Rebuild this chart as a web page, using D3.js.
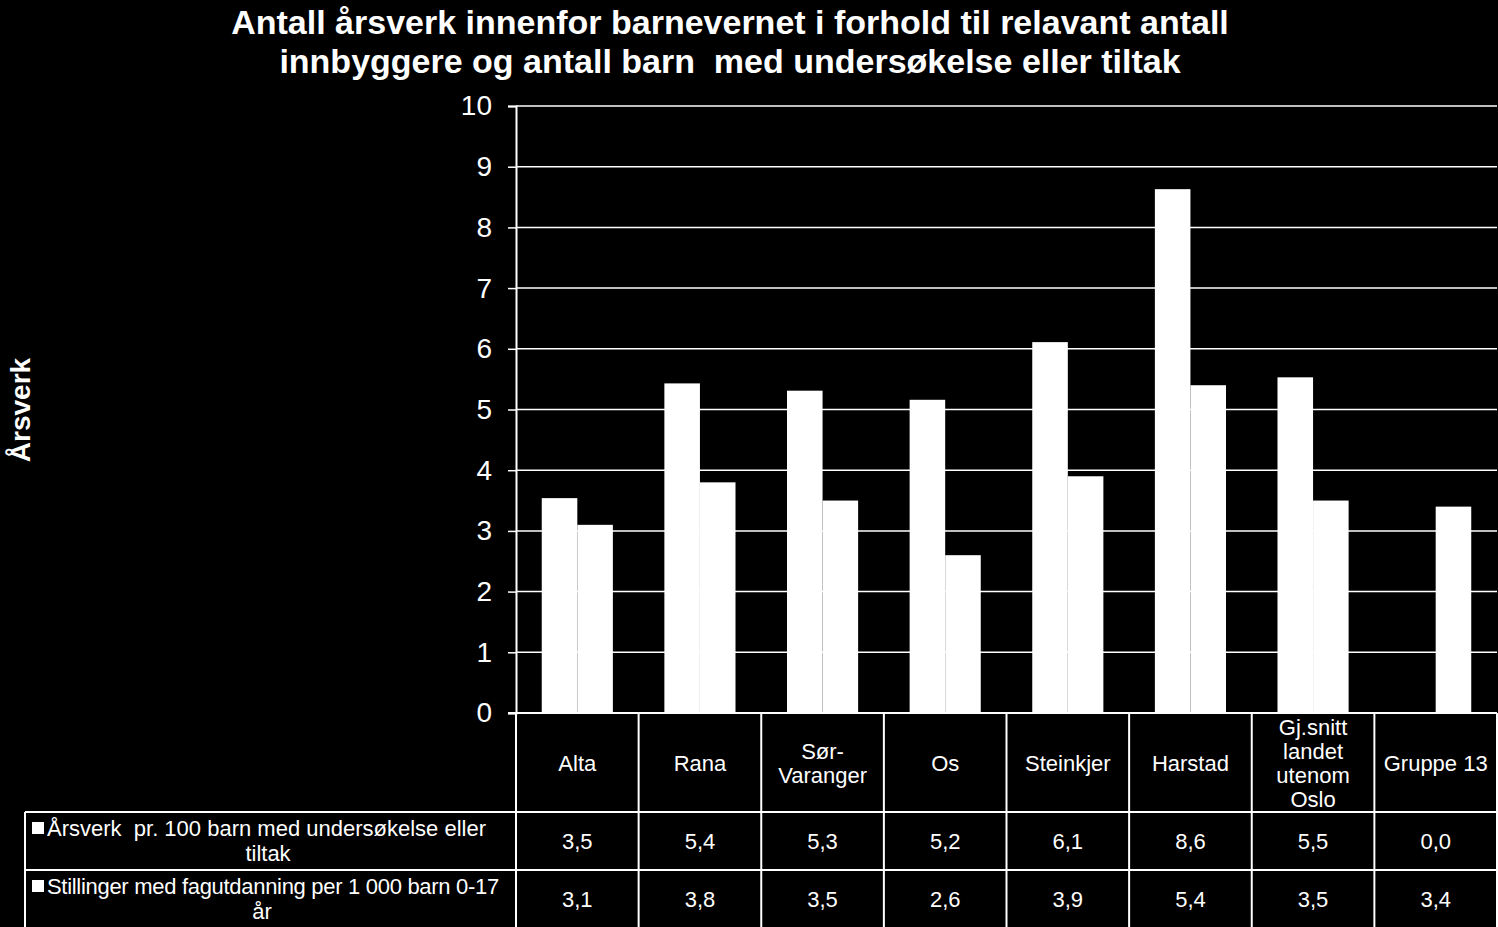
<!DOCTYPE html>
<html><head><meta charset="utf-8">
<script src="https://cdn.jsdelivr.net/npm/d3@7"></script>
<style>html,body{margin:0;padding:0;background:#000;}svg{display:block;font-family:"Liberation Sans",Arial,sans-serif;}text{white-space:pre;}</style>
</head><body>
<svg id="c" width="1498" height="927"></svg>
<script>
const titleLines = ["Antall årsverk innenfor barnevernet i forhold til relavant antall", "innbyggere og antall barn  med undersøkelse eller tiltak"];
const yLabel = "Årsverk";
const categories = [["Alta"],["Rana"],["Sør-","Varanger"],["Os"],["Steinkjer"],["Harstad"],["Gj.snitt","landet","utenom","Oslo"],["Gruppe 13"]];
const seriesNames = [["Årsverk  pr. 100 barn med undersøkelse eller","tiltak"],["Stillinger med fagutdanning per 1 000 barn 0-17","år"]];
const series1 = [3.54, 5.43, 5.31, 5.16, 6.11, 8.63, 5.53, 0.0];
const series2 = [3.1, 3.8, 3.5, 2.6, 3.9, 5.4, 3.5, 3.4];
const yTicks = [0,1,2,3,4,5,6,7,8,9,10];

const svg = d3.select("#c");
const L = 516, R = 1497, T = 106, B = 713;
const tableLeft = 25, row0 = 713, row1 = 812, row2 = 870, row3 = 927;
const x = d3.scaleBand().domain(d3.range(categories.length)).range([L, R]).paddingInner(0.42).paddingOuter(0.21);
const y = d3.scaleLinear().domain([0, 10]).range([B, T]);
const step = (R - L) / categories.length;

// title
svg.append("g").selectAll("text").data(titleLines).join("text")
  .attr("x", 730).attr("y", (d,i)=>34 + i*39).attr("text-anchor","middle")
  .attr("fill","#fff").attr("font-weight","bold").attr("font-size",34).text(d=>d);

// y label
svg.append("text").attr("transform","translate(30,410) rotate(-90)").attr("text-anchor","middle")
  .attr("fill","#fff").attr("font-weight","bold").attr("font-size",28).text(yLabel);

// gridlines
svg.append("g").selectAll("line").data(yTicks.filter(d=>d>0)).join("line")
  .attr("x1",L).attr("x2",R).attr("y1",d=>y(d)).attr("y2",d=>y(d))
  .attr("stroke","#fff").attr("stroke-width",1.5);

// y axis
const yAxis = svg.append("g").attr("transform",`translate(${L},0)`)
  .call(d3.axisLeft(y).tickValues(yTicks).tickSize(8).tickPadding(16).tickFormat(d3.format("d")));
yAxis.select(".domain").attr("stroke","#fff").attr("stroke-width",2);
yAxis.selectAll(".tick line").attr("stroke","#fff").attr("stroke-width",1.5);
yAxis.selectAll("text").attr("fill","#fff").attr("font-size",28).attr("font-family","Liberation Sans, Arial, sans-serif");

// bars
const bw = x.bandwidth()/2;
const g = svg.append("g");
g.selectAll("rect.s1").data(series1).join("rect").attr("class","s1")
  .attr("x",(d,i)=>x(i)).attr("width",bw).attr("y",d=>y(d)).attr("height",d=>y(0)-y(d)).attr("fill","#fff");
g.selectAll("rect.s2").data(series2).join("rect").attr("class","s2")
  .attr("x",(d,i)=>x(i)+bw).attr("width",bw).attr("y",d=>y(d)).attr("height",d=>y(0)-y(d)).attr("fill","#fff");

// baseline
svg.append("line").attr("x1",L-8).attr("x2",R).attr("y1",B).attr("y2",B).attr("stroke","#fff").attr("stroke-width",2);

// table lines
const tl = svg.append("g").attr("stroke","#fff").attr("stroke-width",2);
tl.append("line").attr("x1",tableLeft).attr("x2",R).attr("y1",row1).attr("y2",row1);
tl.append("line").attr("x1",tableLeft).attr("x2",R).attr("y1",row2).attr("y2",row2);
tl.append("line").attr("x1",tableLeft).attr("x2",tableLeft).attr("y1",row1).attr("y2",row3);
tl.append("line").attr("x1",L).attr("x2",L).attr("y1",row0).attr("y2",row3);
tl.append("line").attr("x1",R).attr("x2",R).attr("y1",row0).attr("y2",row3);
tl.selectAll("line.v").data(d3.range(1,categories.length)).join("line").attr("class","v")
  .attr("x1",i=>L+i*step).attr("x2",i=>L+i*step).attr("y1",row0).attr("y2",row3);

// category labels
const fs = 22, lh = 24;
const cat = svg.append("g").attr("fill","#fff").attr("font-size",fs).attr("text-anchor","middle");
categories.forEach((lines,i)=>{
  const cx = L + (i+0.5)*step, cy = (row0+row1)/2;
  const t = cat.append("text").attr("x",cx).attr("y",cy - (lines.length-1)*lh/2 + 8);
  lines.forEach((ln,j)=>t.append("tspan").attr("x",cx).attr("dy",j?lh:0).text(ln));
});

// value rows
const fmt = v => d3.format(".1f")(v).replace(".",",");
[series1, series2].forEach((vals,r)=>{
  const cy = r===0 ? (row1+row2)/2 : (row2+row3)/2;
  svg.append("g").selectAll("text").data(vals).join("text")
    .attr("x",(d,i)=>L+(i+0.5)*step).attr("y",cy+8).attr("text-anchor","middle")
    .attr("fill","#fff").attr("font-size",fs).text(d=>fmt(d));
  // legend label
  const top = r===0 ? row1 : row2;
  const nm = seriesNames[r];
  svg.append("rect").attr("x",32).attr("y",top+10).attr("width",12).attr("height",12).attr("fill","#fff");
  svg.append("text").attr("x",47).attr("y",top+24).attr("fill","#fff").attr("font-size",fs)
    .attr("letter-spacing", r===0 ? 0 : -0.3).text(nm[0]);
  svg.append("text").attr("x",r===0?268:262).attr("y",top+49).attr("text-anchor","middle").attr("fill","#fff").attr("font-size",fs).text(nm[1]);
});
</script>
</body></html>
